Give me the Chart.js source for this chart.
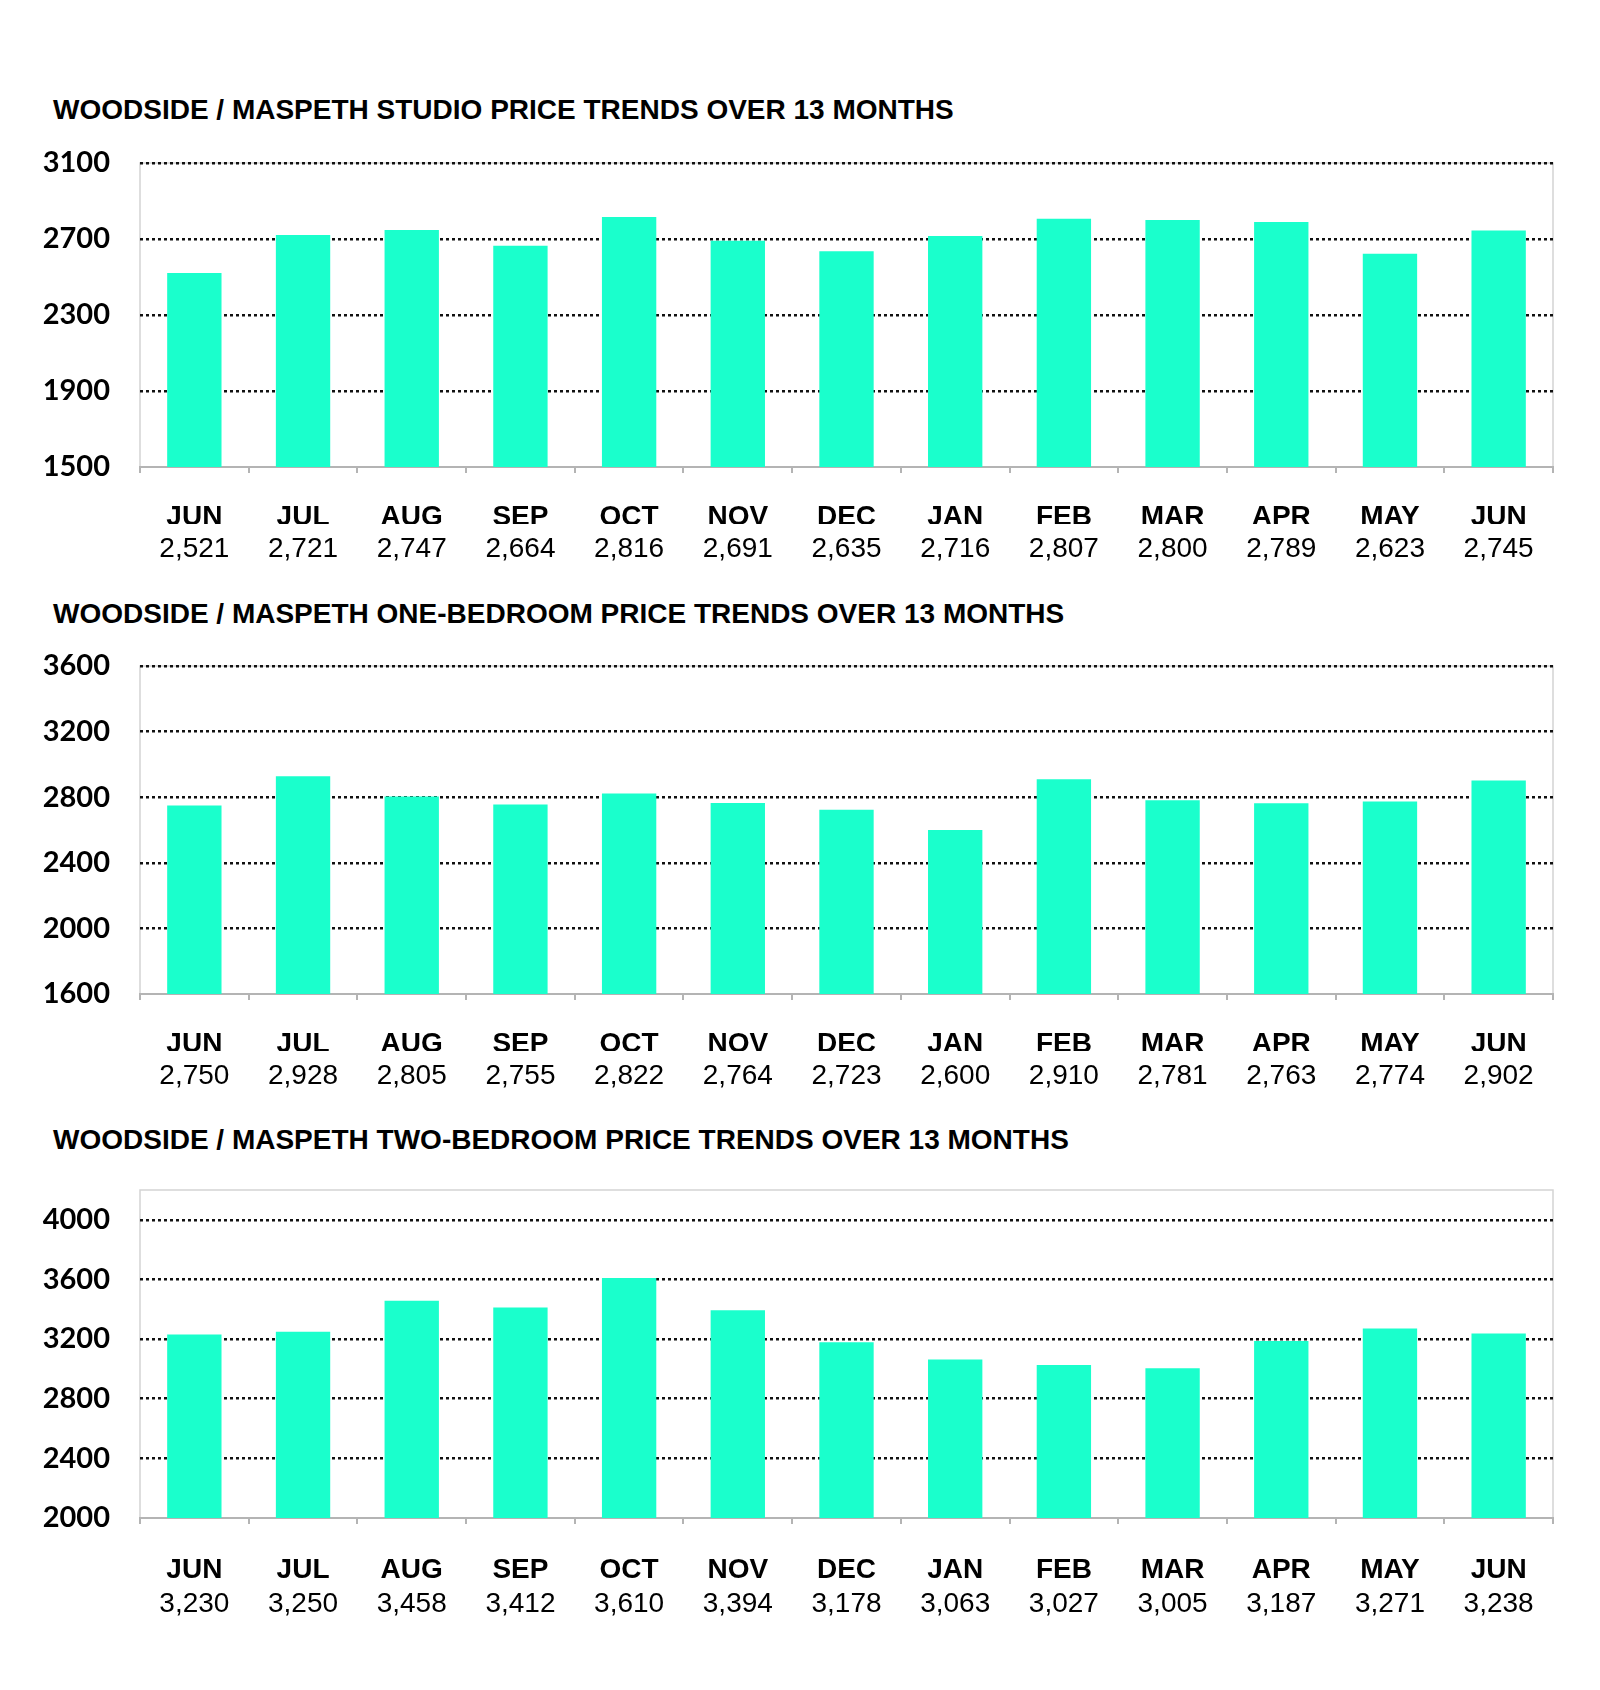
<!DOCTYPE html>
<html>
<head>
<meta charset="utf-8">
<script src="https://cdn.jsdelivr.net/npm/chart.js@4.4.1/dist/chart.umd.min.js"></script>
<style>
  html, body { margin: 0; padding: 0; background: #fff; }
  #page { position: relative; width: 1600px; height: 1690px; overflow: hidden; }
  .title {
    position: absolute; left: 53px;
    font: bold 28px "Liberation Sans", Arial, sans-serif;
    line-height: 28px; color: #000; white-space: nowrap;
  }
  canvas { position: absolute; left: 0; }
</style>
</head>
<body>
<div id="page">
  <div class="title" style="top:96px">WOODSIDE / MASPETH STUDIO PRICE TRENDS OVER 13 MONTHS</div>
  <canvas id="chart-studio" width="1600" height="427" style="top:143px"></canvas>
  <div class="title" style="top:600px">WOODSIDE / MASPETH ONE-BEDROOM PRICE TRENDS OVER 13 MONTHS</div>
  <canvas id="chart-onebed" width="1600" height="451" style="top:646px"></canvas>
  <div class="title" style="top:1126px">WOODSIDE / MASPETH TWO-BEDROOM PRICE TRENDS OVER 13 MONTHS</div>
  <canvas id="chart-twobed" width="1600" height="455" style="top:1170px"></canvas>
</div>
<script>
// Woodside / Maspeth rent trends – three bar charts

const MONTHS = ['JUN', 'JUL', 'AUG', 'SEP', 'OCT', 'NOV', 'DEC', 'JAN', 'FEB', 'MAR', 'APR', 'MAY', 'JUN'];

const studioPrices = [2521, 2721, 2747, 2664, 2816, 2691, 2635, 2716, 2807, 2800, 2789, 2623, 2745];
const oneBedPrices = [2750, 2928, 2805, 2755, 2822, 2764, 2723, 2600, 2910, 2781, 2763, 2774, 2902];
const twoBedPrices = [3230, 3250, 3458, 3412, 3610, 3394, 3178, 3063, 3027, 3005, 3187, 3271, 3238];

// y axis ranges: [min, max, step]
const studioAxis = [1500, 3100, 400];
const oneBedAxis = [1600, 3600, 400];
const twoBedAxis = [2000, 4200, 400];

const BAR_COLOR = '#1affcc';
const LABEL_FONT = '"Liberation Sans", Arial, sans-serif';

Chart.defaults.color = '#000';
Chart.defaults.devicePixelRatio = 1;

// light grey frame around the plot area, drawn under grid lines and bars
const plotFrame = {
    id: 'plotFrame',
    beforeDraw(chart) {
        const { ctx, chartArea: a } = chart;
        ctx.save();
        ctx.strokeStyle = '#d4d4d4';
        ctx.lineWidth = 1.5;
        ctx.beginPath();
        ctx.moveTo(a.left, a.bottom);
        ctx.lineTo(a.left, a.top);
        ctx.lineTo(a.right, a.top);
        ctx.lineTo(a.right, a.bottom);
        ctx.stroke();
        ctx.restore();
    }
};

function renderPriceChart(canvasId, values, axis, monthPad, monthAxisHeight) {
    const ctx = document.getElementById(canvasId);
    if (!ctx) return;
    const [yMin, yMax, yStep] = axis;
    const valueLabels = values.map(v => v.toLocaleString('en-US'));

    return new Chart(ctx.getContext('2d'), {
        type: 'bar',
        data: {
            labels: MONTHS,
            datasets: [{
                data: values,
                backgroundColor: BAR_COLOR,
                borderWidth: 0,
                barPercentage: 0.5,
                categoryPercentage: 1.0,
                xAxisID: 'x',
            }]
        },
        options: {
            responsive: false,
            animation: false,
            layout: { padding: { top: 20, right: 47, bottom: 0, left: 0 } },
            plugins: {
                legend: { display: false },
                tooltip: { enabled: false }
            },
            scales: {
                y: {
                    min: yMin,
                    max: yMax,
                    // fixed axis width, no extra label padding above the plot
                    afterFit: s => { s.width = 140; s.paddingTop = 0; s.paddingBottom = 0; },
                    border: { display: false, dash: [3, 3] },
                    grid: {
                        drawTicks: false,
                        lineWidth: 2.5,
                        color: c => (c.tick && c.tick.value === yMin) ? 'rgba(0,0,0,0)' : '#111',
                    },
                    ticks: {
                        stepSize: yStep,
                        includeBounds: false,
                        padding: 30,
                        callback: v => String(v),
                        font: { family: 'Lato', weight: 'bold', size: 29 },
                    }
                },
                x: {
                    position: 'bottom',
                    weight: 0,
                    afterFit: s => { s.height = monthAxisHeight; },
                    border: { color: '#b4b4b4', width: 2 },
                    grid: {
                        offset: true,
                        drawOnChartArea: false,
                        tickLength: 6,
                        lineWidth: 2,
                        color: '#b4b4b4',
                    },
                    ticks: {
                        autoSkip: false,
                        maxRotation: 0,
                        padding: monthPad,
                        font: { family: LABEL_FONT, weight: 'bold', size: 28 },
                    }
                },
                // second row of labels: the price under each month
                x2: {
                    type: 'category',
                    position: 'bottom',
                    weight: 1,
                    labels: valueLabels,
                    offset: true,
                    afterFit: s => { s.height = 46; },
                    border: { display: false },
                    grid: { display: false },
                    ticks: {
                        autoSkip: false,
                        maxRotation: 0,
                        padding: 0,
                        font: { family: LABEL_FONT, size: 28 },
                    }
                }
            }
        },
        plugins: [plotFrame]
    });
}

renderPriceChart('chart-studio', studioPrices, studioAxis, 27, 57);
renderPriceChart('chart-onebed', oneBedPrices, oneBedAxis, 27, 57);
renderPriceChart('chart-twobed', twoBedPrices, twoBedAxis, 29, 61);
</script>
</body>
</html>
